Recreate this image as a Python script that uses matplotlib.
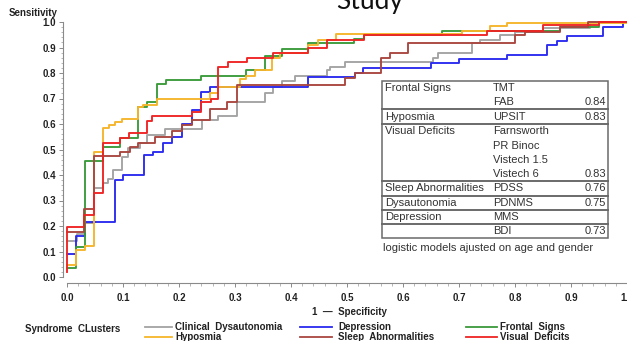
import matplotlib
matplotlib.use("Agg")
import matplotlib.pyplot as plt
from matplotlib.lines import Line2D
from matplotlib.patches import Rectangle
from matplotlib.ticker import MultipleLocator

W, H = 627, 341

# ---------------- data (ROC step curves: x = 1-specificity, y = sensitivity) -------------
gray_x = [0, 0.018, 0.032, 0.048, 0.064, 0.073, 0.082, 0.098, 0.109, 0.130, 0.143, 0.175,
          0.241, 0.270, 0.304, 0.354, 0.368, 0.384, 0.407, 0.464, 0.470, 0.496, 0.654,
          0.663, 0.723, 0.738, 0.773, 0.800, 0.850, 0.934, 1.0]
gray_y = [0.14, 0.17, 0.21, 0.35, 0.37, 0.385, 0.42, 0.47, 0.505, 0.525, 0.556, 0.58,
          0.616, 0.63, 0.686, 0.72, 0.745, 0.77, 0.79, 0.81, 0.825, 0.843, 0.86,
          0.878, 0.918, 0.93, 0.95, 0.96, 0.975, 1.0, 1.0]

blue_x = [0, 0.016, 0.032, 0.085, 0.100, 0.137, 0.153, 0.171, 0.187, 0.205, 0.223, 0.240,
          0.255, 0.430, 0.514, 0.529, 0.650, 0.700, 0.785, 0.857, 0.875, 0.893, 0.957,
          0.993, 1.0]
blue_y = [0.09, 0.16, 0.216, 0.38, 0.40, 0.478, 0.49, 0.525, 0.548, 0.60, 0.655, 0.727,
          0.745, 0.784, 0.80, 0.82, 0.84, 0.855, 0.87, 0.91, 0.925, 0.945, 0.98,
          1.0, 1.0]

green_x = [0, 0.016, 0.032, 0.064, 0.095, 0.127, 0.143, 0.160, 0.177, 0.240, 0.320, 0.353,
           0.384, 0.430, 0.513, 0.530, 0.670, 0.880, 0.950, 1.0]
green_y = [0.035, 0.118, 0.455, 0.51, 0.545, 0.667, 0.686, 0.755, 0.773, 0.788, 0.81, 0.865,
           0.894, 0.916, 0.935, 0.95, 0.965, 0.98, 1.0, 1.0]

orange_x = [0, 0.016, 0.032, 0.048, 0.064, 0.075, 0.085, 0.098, 0.127, 0.135, 0.160, 0.255,
            0.270, 0.309, 0.320, 0.336, 0.366, 0.380, 0.430, 0.448, 0.480, 0.705, 0.755,
            0.786, 1.0]
orange_y = [0.047, 0.106, 0.12, 0.49, 0.584, 0.596, 0.608, 0.62, 0.667, 0.675, 0.698, 0.72,
            0.745, 0.776, 0.79, 0.81, 0.86, 0.88, 0.91, 0.93, 0.953, 0.965, 0.984,
            0.995, 1.0]

brown_x = [0, 0.030, 0.048, 0.095, 0.112, 0.127, 0.157, 0.188, 0.205, 0.223, 0.255, 0.285,
           0.303, 0.496, 0.514, 0.560, 0.577, 0.609, 0.800, 0.818, 0.880, 0.930, 1.0]
brown_y = [0.175, 0.265, 0.475, 0.49, 0.51, 0.525, 0.548, 0.572, 0.596, 0.616, 0.66, 0.686,
           0.753, 0.78, 0.80, 0.86, 0.878, 0.918, 0.95, 0.96, 0.98, 1.0, 1.0]

red_x = [0, 0, 0.030, 0.048, 0.064, 0.095, 0.110, 0.143, 0.152, 0.223, 0.240, 0.258, 0.270,
         0.288, 0.322, 0.368, 0.430, 0.464, 0.530, 0.750, 0.850, 0.950, 1.0]
red_y = [0.02, 0.196, 0.245, 0.33, 0.525, 0.545, 0.565, 0.61, 0.63, 0.648, 0.687, 0.70, 0.824,
         0.843, 0.86, 0.878, 0.897, 0.93, 0.95, 0.965, 0.99, 1.0, 1.0]

series_names = ["Clinical  Dysautonomia", "Depression", "Frontal  Signs",
                "Hyposmia", "Sleep  Abnormalities", "Visual  Deficits"]
series_colors = ["#a3a3a3", "#2a2af0", "#3a9a3a", "#f5b52a", "#a8463f", "#ee2424"]
series_x = [gray_x, blue_x, green_x, orange_x, brown_x, red_x]
series_y = [gray_y, blue_y, green_y, orange_y, brown_y, red_y]

xticks = [0.0, 0.1, 0.2, 0.3, 0.4, 0.5, 0.6, 0.7, 0.8, 0.9, 1.0]
yticks = [0.0, 0.1, 0.2, 0.3, 0.4, 0.5, 0.6, 0.7, 0.8, 0.9, 1.0]

table_rows = [
    ("Frontal Signs", "TMT", ""),
    ("", "FAB", "0.84"),
    ("Hyposmia", "UPSIT", "0.83"),
    ("Visual Deficits", "Farnsworth", ""),
    ("", "PR Binoc", ""),
    ("", "Vistech 1.5", ""),
    ("", "Vistech 6", "0.83"),
    ("Sleep Abnormalities", "PDSS", "0.76"),
    ("Dysautonomia", "PDNMS", "0.75"),
    ("Depression", "MMS", ""),
    ("", "BDI", "0.73"),
]
table_note = "logistic models ajusted on age and gender"

# ---------------- figure -------------
plt.rcParams['font.family'] = ['Liberation Sans', 'DejaVu Sans']
fig = plt.figure(figsize=(W / 100, H / 100), dpi=100)

def fx(px):
    return px / W

def fy(py):
    return 1 - py / H

ax = fig.add_axes([fx(67), fy(277), 560 / W, 255 / H])
ax.set_xlim(0, 1)
ax.set_ylim(0, 1)

for i in range(6):
    ax.plot(series_x[i], series_y[i], drawstyle='steps-post', color=series_colors[i],
            lw=1.35, clip_on=False, zorder=3)

for s in ['top', 'right']:
    ax.spines[s].set_visible(False)
ax.spines['left'].set_position(('outward', 3))
ax.spines['bottom'].set_position(('outward', 4.3))
for s in ['left', 'bottom']:
    ax.spines[s].set_color('#8a8a8a')
    ax.spines[s].set_linewidth(0.8)

ax.set_xticks(xticks)
ax.set_yticks(yticks)
ax.set_xticklabels([f"{v:.1f}" for v in xticks])
ax.set_yticklabels([f"{v:.1f}" for v in yticks])
ax.xaxis.set_minor_locator(MultipleLocator(0.02))
ax.yaxis.set_minor_locator(MultipleLocator(0.02))
ax.tick_params(which='major', length=3, width=0.7, color='#8a8a8a', labelsize=7,
               labelcolor='#222222')
ax.tick_params(which='minor', length=1.8, width=0.5, color='#9a9a9a')
ax.tick_params(axis='x', which='major', pad=4)
ax.tick_params(axis='y', which='major', pad=2)
for lab in ax.get_xticklabels() + ax.get_yticklabels():
    lab.set_fontweight('bold')

fig.text(fx(9), fy(13), "Sensitivity", fontsize=7, fontweight='bold', ha='left',
         va='center', color='#222222')
fig.text(fx(349), fy(312), "1  \u2014  Specificity", fontsize=7, fontweight='bold',
         ha='center', va='center', color='#222222')

# cropped title
fig.text(fx(370), fy(9), "Study", fontsize=19, ha='center', va='baseline',
         family=['Lato', 'DejaVu Sans'], color='#111111')

# legend
fig.text(fx(25), fy(329), "Syndrome  CLusters", fontsize=7, fontweight='bold',
         ha='left', va='center', color='#222222')
cols = [(145, 172, 175), (300, 332, 338), (466, 497, 500)]
rows = [327, 337]
for k in range(6):
    r, c = divmod(k, 3)
    x0, x1, xt = cols[c]
    yy = rows[r]
    fig.add_artist(Line2D([fx(x0), fx(x1)], [fy(yy), fy(yy)], color=series_colors[k], lw=1.3,
                          transform=fig.transFigure))
    fig.text(fx(xt), fy(yy), series_names[k], fontsize=7, fontweight='bold', ha='left',
             va='center', color='#222222')

# table
bx0, bx1, by0, by1 = 382, 608, 81, 238
fig.add_artist(Rectangle((fx(bx0), fy(by1)), fx(bx1) - fx(bx0), fy(by0) - fy(by1),
                         transform=fig.transFigure, facecolor='white', edgecolor='#6a6a6a',
                         lw=1.1, zorder=5))
row_y = [88, 102, 117, 131, 146, 160, 174, 188, 203, 217, 231]
for (a, b, c), yy in zip(table_rows, row_y):
    kw = dict(fontsize=8, va='center', color='#333333', zorder=6)
    fig.text(fx(385), fy(yy), a, ha='left', **kw)
    fig.text(fx(493), fy(yy), b, ha='left', **kw)
    fig.text(fx(606), fy(yy), c, ha='right', **kw)
for yy in [109.5, 124, 181, 195.5, 210, 224]:
    fig.add_artist(Line2D([fx(bx0), fx(bx1)], [fy(yy), fy(yy)], color='#6a6a6a', lw=1.4,
                          transform=fig.transFigure, zorder=6))
fig.text(fx(383), fy(248), table_note, fontsize=8, ha='left', va='center', color='#333333')

fig.savefig("out.png", dpi=100)
